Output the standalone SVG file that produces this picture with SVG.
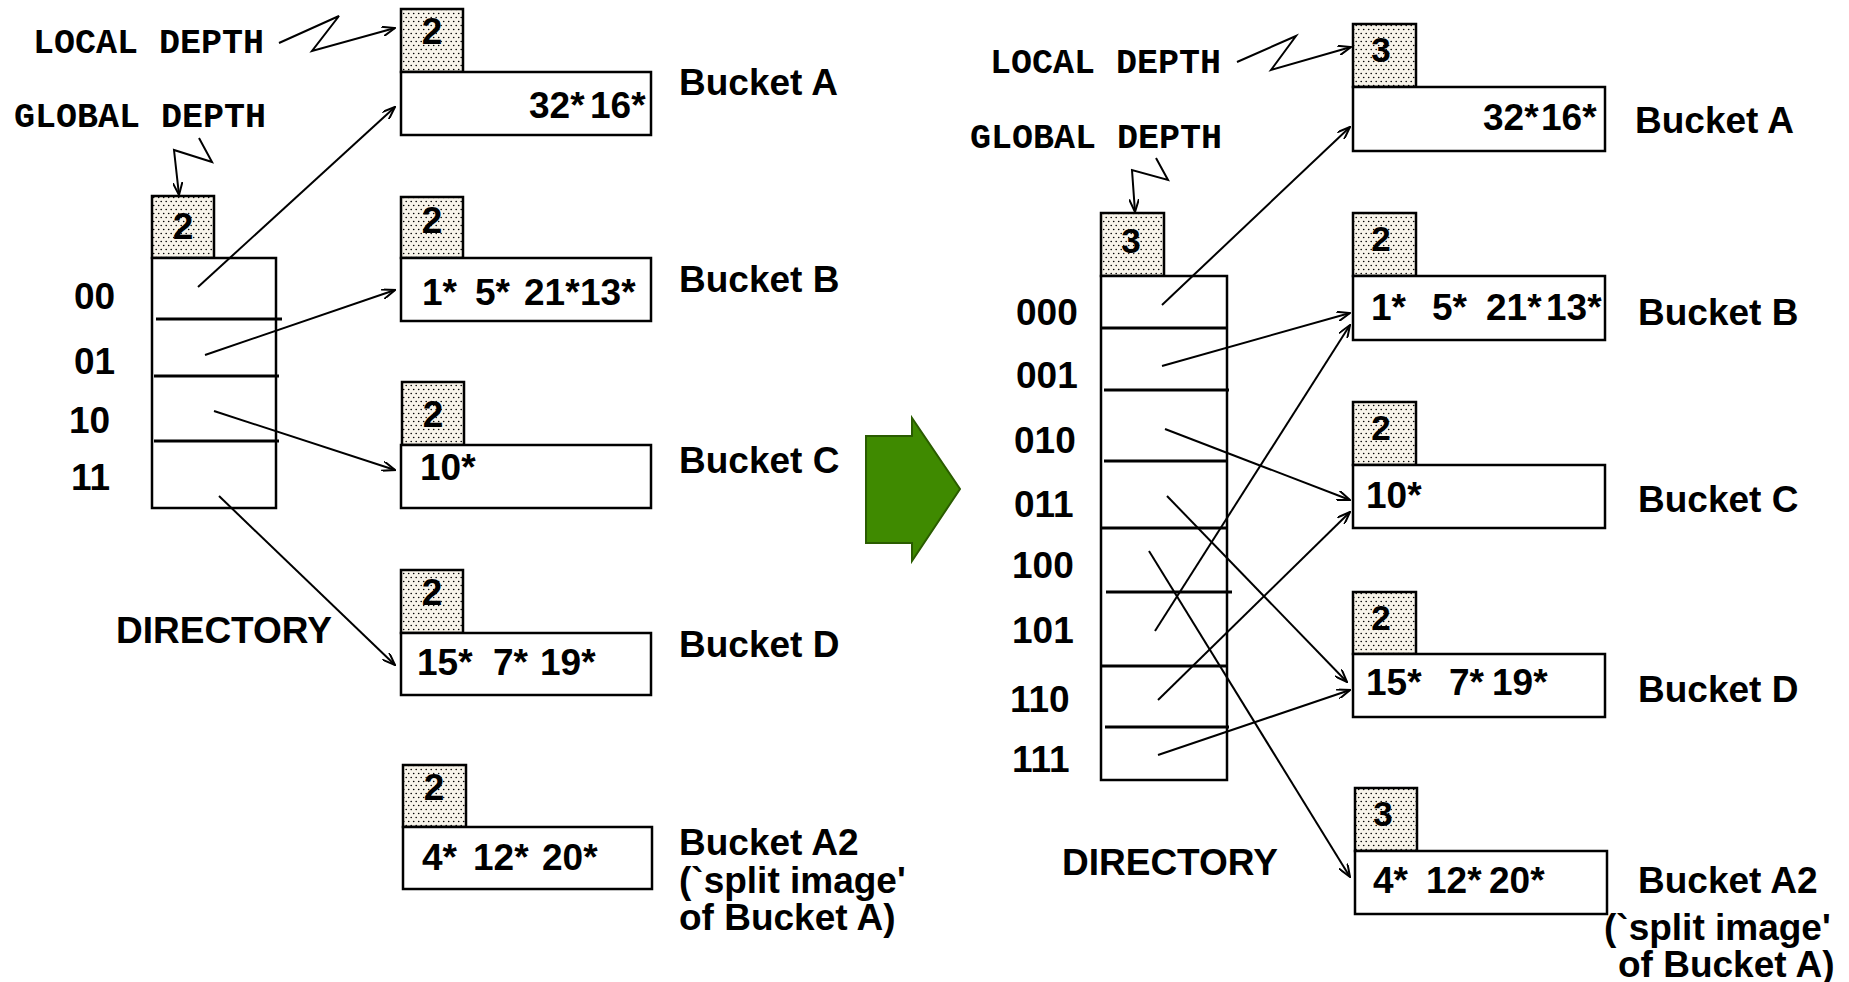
<svg xmlns="http://www.w3.org/2000/svg" width="1849" height="982" viewBox="0 0 1849 982">
<style>
.t{font-family:"Liberation Sans",Arial,sans-serif;font-weight:bold;font-size:37px;fill:#000}
.s{font-size:35px}
.m{font-family:"Liberation Mono","Courier New",monospace;font-weight:bold;font-size:35px;fill:#000}
.box{fill:#fff;stroke:#000;stroke-width:2.5}
.ld{fill:url(#dots);stroke:#000;stroke-width:2.5}
.div{stroke:#000;stroke-width:3}
.c{stroke:#000;stroke-width:2;fill:none;marker-end:url(#ah)}
.d{text-anchor:middle}
</style>
<defs>
<pattern id="dots" width="5" height="8" patternUnits="userSpaceOnUse">
<rect width="5" height="8" fill="#f8f4ea"/>
<circle cx="1.2" cy="1.5" r="0.8" fill="#000"/>
<circle cx="3.7" cy="5.5" r="0.8" fill="#000"/>
</pattern>
<marker id="ah" viewBox="0 0 14 10" refX="13" refY="5" markerWidth="14" markerHeight="10" markerUnits="userSpaceOnUse" orient="auto">
<path d="M0,0 L13,5 L0,10" fill="none" stroke="#000" stroke-width="2"/>
</marker>
</defs>
<rect width="1849" height="982" fill="#fff"/>

<!-- LEFT -->
<g id="left-labels">
<text class="m" x="33" y="53">LOCAL DEPTH</text>
<text class="m" x="14" y="127">GLOBAL DEPTH</text>
<text class="t" x="116" y="643">DIRECTORY</text>
</g>
<g id="left-directory">
<rect class="ld" x="152" y="196" width="62" height="62"/>
<text class="t d" x="183" y="239">2</text>
<rect class="box" x="152" y="258" width="124" height="250"/>
<line class="div" x1="156" y1="319" x2="282" y2="319"/>
<line class="div" x1="154" y1="376" x2="279" y2="376"/>
<line class="div" x1="154" y1="441" x2="279" y2="441"/>
<text class="t" x="74" y="309">00</text>
<text class="t" x="74" y="374">01</text>
<text class="t" x="69" y="433">10</text>
<text class="t" x="71" y="490">11</text>
</g>
<g id="left-bucketA">
<rect class="ld" x="401" y="9" width="62" height="63"/>
<text class="t d" x="432" y="44">2</text>
<rect class="box" x="401" y="72" width="250" height="63"/>
<text class="t" y="118"><tspan x="529">32*</tspan><tspan x="590">16*</tspan></text>
<text class="t" x="679" y="95">Bucket A</text>
</g>
<g id="left-bucketB">
<rect class="ld" x="401" y="197" width="62" height="61"/>
<text class="t d" x="432" y="233">2</text>
<rect class="box" x="401" y="258" width="250" height="63"/>
<text class="t" y="305"><tspan x="422">1*</tspan><tspan x="475">5*</tspan><tspan x="524">21*</tspan><tspan x="580">13*</tspan></text>
<text class="t" x="679" y="292">Bucket B</text>
</g>
<g id="left-bucketC">
<rect class="ld" x="402" y="382" width="62" height="63"/>
<text class="t d" x="433" y="427">2</text>
<rect class="box" x="401" y="445" width="250" height="63"/>
<text class="t" x="420" y="480">10*</text>
<text class="t" x="679" y="473">Bucket C</text>
</g>
<g id="left-bucketD">
<rect class="ld" x="401" y="570" width="62" height="63"/>
<text class="t d" x="432" y="605">2</text>
<rect class="box" x="401" y="633" width="250" height="62"/>
<text class="t" y="675"><tspan x="417">15*</tspan><tspan x="493">7*</tspan><tspan x="540">19*</tspan></text>
<text class="t" x="679" y="657">Bucket D</text>
</g>
<g id="left-bucketA2">
<rect class="ld" x="403" y="765" width="63" height="62"/>
<text class="t d" x="434" y="800">2</text>
<rect class="box" x="403" y="827" width="249" height="62"/>
<text class="t" y="870"><tspan x="422">4*</tspan><tspan x="473">12*</tspan><tspan x="542">20*</tspan></text>
<text class="t" x="679" y="855">Bucket A2</text>
<text class="t" x="679" y="893">(`split image'</text>
<text class="t" x="679" y="930">of Bucket A)</text>
</g>

<!-- ARROW -->
<g id="transition-arrow">
<polygon points="866,436 912,436 912,418 960,489 912,561 912,543 866,543" fill="#3f8a00" stroke="#2a5c00" stroke-width="2"/>
</g>

<!-- RIGHT -->
<g id="right-labels">
<text class="m" x="990" y="73">LOCAL DEPTH</text>
<text class="m" x="970" y="148">GLOBAL DEPTH</text>
<text class="t" x="1062" y="875">DIRECTORY</text>
</g>
<g id="right-directory">
<rect class="ld" x="1101" y="213" width="63" height="63"/>
<text class="t s d" x="1131" y="253">3</text>
<rect class="box" x="1101" y="276" width="126" height="504"/>
<line class="div" x1="1101" y1="328" x2="1227" y2="328"/>
<line class="div" x1="1104" y1="390" x2="1229" y2="390"/>
<line class="div" x1="1104" y1="461" x2="1227" y2="461"/>
<line class="div" x1="1101" y1="528" x2="1227" y2="528"/>
<line class="div" x1="1106" y1="592" x2="1232" y2="592"/>
<line class="div" x1="1101" y1="666" x2="1227" y2="666"/>
<line class="div" x1="1105" y1="727" x2="1229" y2="727"/>
<text class="t" x="1016" y="325">000</text>
<text class="t" x="1016" y="388">001</text>
<text class="t" x="1014" y="453">010</text>
<text class="t" x="1014" y="517">011</text>
<text class="t" x="1012" y="578">100</text>
<text class="t" x="1012" y="643">101</text>
<text class="t" x="1010" y="712">110</text>
<text class="t" x="1012" y="772">111</text>
</g>
<g id="right-bucketA">
<rect class="ld" x="1353" y="24" width="63" height="63"/>
<text class="t s d" x="1381" y="62">3</text>
<rect class="box" x="1353" y="87" width="252" height="64"/>
<text class="t" y="130"><tspan x="1483">32*</tspan><tspan x="1541">16*</tspan></text>
<text class="t" x="1635" y="133">Bucket A</text>
</g>
<g id="right-bucketB">
<rect class="ld" x="1353" y="213" width="63" height="63"/>
<text class="t s d" x="1381" y="251">2</text>
<rect class="box" x="1353" y="276" width="252" height="64"/>
<text class="t" y="320"><tspan x="1371">1*</tspan><tspan x="1432">5*</tspan><tspan x="1486">21*</tspan><tspan x="1546">13*</tspan></text>
<text class="t" x="1638" y="325">Bucket B</text>
</g>
<g id="right-bucketC">
<rect class="ld" x="1353" y="402" width="63" height="63"/>
<text class="t s d" x="1381" y="440">2</text>
<rect class="box" x="1353" y="465" width="252" height="63"/>
<text class="t" x="1366" y="508">10*</text>
<text class="t" x="1638" y="512">Bucket C</text>
</g>
<g id="right-bucketD">
<rect class="ld" x="1353" y="592" width="63" height="62"/>
<text class="t s d" x="1381" y="630">2</text>
<rect class="box" x="1353" y="654" width="252" height="63"/>
<text class="t" y="695"><tspan x="1366">15*</tspan><tspan x="1449">7*</tspan><tspan x="1492">19*</tspan></text>
<text class="t" x="1638" y="702">Bucket D</text>
</g>
<g id="right-bucketA2">
<rect class="ld" x="1355" y="788" width="62" height="63"/>
<text class="t s d" x="1383" y="826">3</text>
<rect class="box" x="1355" y="851" width="252" height="63"/>
<text class="t" y="893"><tspan x="1373">4*</tspan><tspan x="1426">12*</tspan><tspan x="1489">20*</tspan></text>
<text class="t" x="1638" y="893">Bucket A2</text>
<text class="t" x="1604" y="940">(`split image'</text>
<text class="t" x="1618" y="977">of Bucket A)</text>
</g>

<g id="connectors">
<polyline class="c" points="279,43 339,16 312,51 395,28"/>
<polyline class="c" points="199,138 212,162 174,150 179,195"/>
<line class="c" x1="198" y1="287" x2="395" y2="107"/>
<line class="c" x1="205" y1="355" x2="395" y2="290"/>
<line class="c" x1="214" y1="411" x2="395" y2="470"/>
<line class="c" x1="219" y1="496" x2="395" y2="665"/>

<polyline class="c" points="1237,62 1296,36 1271,70 1351,47"/>
<polyline class="c" points="1156,158 1168,180 1132,170 1135,212"/>
<line class="c" x1="1162" y1="305" x2="1350" y2="127"/>
<line class="c" x1="1162" y1="366" x2="1350" y2="313"/>
<line class="c" x1="1165" y1="429" x2="1350" y2="500"/>
<line class="c" x1="1167" y1="496" x2="1347" y2="682"/>
<line class="c" x1="1149" y1="551" x2="1350" y2="877"/>
<line class="c" x1="1155" y1="631" x2="1350" y2="325"/>
<line class="c" x1="1158" y1="700" x2="1350" y2="512"/>
<line class="c" x1="1158" y1="755" x2="1350" y2="690"/>
</g>
</svg>
